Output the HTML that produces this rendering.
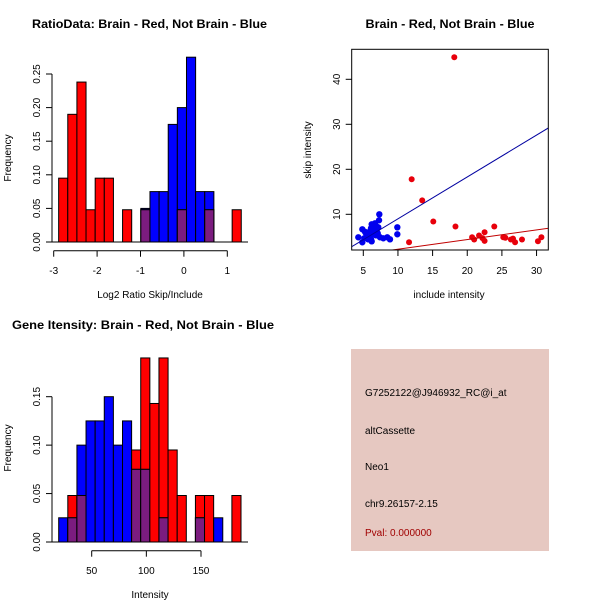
<!DOCTYPE html>
<html><head><meta charset="utf-8"><style>
html,body{margin:0;padding:0;background:#fff;}
svg{display:block;font-family:"Liberation Sans",sans-serif;}
</style></head><body>
<svg id="c" width="600" height="600" viewBox="0 0 600 600"></svg>
<script>
// ---- Panel 1: ratio histogram ----
const ratioBinStart = -2.886;
const ratioBinWidth = 0.2104;
const ratioRed  = [0.095,0.19,0.238,0.048,0.095,0.095,0,0.048,0,0.048,0,0,0,0.048,0,0,0.048,0,0,0.048];
const ratioBlue = [0,0,0,0,0,0,0,0,0,0.05,0.075,0.075,0.175,0.2,0.275,0.075,0.075,0,0,0];
const ratioXTicks = [-3,-2,-1,0,1];
const ratioYTicks = [0,0.05,0.10,0.15,0.20,0.25];
const ratioYLabels = ["0.00","0.05","0.10","0.15","0.20","0.25"];
// ---- Panel 2: scatter ----
const redInc  = [18.13,11.98,13.5,15.1,11.6,18.3,23.9,20.7,21.0,21.7,22.2,22.5,22.5,25.2,25.5,26.3,26.6,26.9,27.9,30.2,30.7];
const redSkip = [44.9,17.8,13.1,8.4,3.8,7.3,7.3,4.9,4.4,5.3,4.7,6.0,4.1,4.9,4.8,4.4,4.6,3.8,4.4,4.0,4.9];
const blueInc  = [4.28,4.86,4.86,5.14,5.39,5.49,5.72,5.87,5.97,6.11,6.11,6.21,6.36,6.44,6.54,6.69,6.83,6.93,7.08,7.16,7.27,7.31,7.41,7.89,8.46,8.85,9.91,9.91,6.21,5.72,5.25,6.69,6.93];
const blueSkip = [4.89,6.67,3.78,4.67,5.78,5.11,5.56,4.89,6.22,6.89,4.44,7.78,5.56,6.67,6.0,7.11,5.33,6.22,5.78,7.11,8.67,10.0,4.89,4.67,4.89,4.44,7.11,5.56,4.0,4.44,6.1,8.0,7.26];
const redFit  = [0.1, 0.214];   // intercept, slope
const blueFit = [-0.3, 0.93];
const scXTicks = [5,10,15,20,25,30];
const scYTicks = [10,20,30,40];
// ---- Panel 3: intensity histogram ----
const intBinStart = 19.8;
const intBinWidth = 8.34;
const intRed  = [0,0.048,0.048,0,0,0,0,0,0.095,0.19,0.143,0.19,0.095,0.048,0,0.048,0.048,0,0,0.048];
const intBlue = [0.025,0.025,0.1,0.125,0.125,0.15,0.1,0.125,0.075,0.075,0,0.025,0,0,0,0.025,0,0.025,0,0];
const intXTicks = [50,100,150];
const intYTicks = [0,0.05,0.10,0.15];
const intYLabels = ["0.00","0.05","0.10","0.15"];
// ---- Panel 4 text ----
const infoLines = ["G7252122@J946932_RC@i_at","altCassette","Neo1","chr9.26157-2.15"];
const pvalText = "Pval: 0.000000";

const NS="http://www.w3.org/2000/svg";
const svg=document.getElementById('c');
function mk(tag,attrs,parent){const e=document.createElementNS(NS,tag);for(const k in attrs)e.setAttribute(k,attrs[k]);(parent||svg).appendChild(e);return e;}
function txt(s,x,y,attrs,parent){const t=mk('text',Object.assign({x:x,y:y,'font-size':10,'text-anchor':'middle',fill:'#000'},attrs||{}),parent);t.textContent=s;return t;}

function hist(g,start,width,red,blue,sx,sy){
  for(let i=0;i<red.length;i++){
    const x0=sx(start+i*width), x1=sx(start+(i+1)*width);
    const r=red[i], b=blue[i];
    const order=r>=b?[[r,'#ff0000','red'],[b,'#0000ff','blue']]:[[b,'#0000ff','blue'],[r,'#ff0000','red']];
    for(const [v,col,nm] of order){
      if(v<=0) continue;
      const el=mk('rect',{x:x0,y:sy(v),width:x1-x0,height:sy(0)-sy(v),fill:col,stroke:'#000','stroke-width':1},g);
      
      
    }
    const m=Math.min(r,b);
    if(m>0){
      const el=mk('rect',{x:x0,y:sy(m),width:x1-x0,height:sy(0)-sy(m),fill:'#7b1c7f',stroke:'#000','stroke-width':1},g);
      
      
    }
  }
}
function yAxis(g,x,ticks,labels,sy,labX){
  mk('line',{x1:x,x2:x,y1:sy(ticks[0]),y2:sy(ticks[ticks.length-1]),stroke:'#000'},g);
  ticks.forEach((t,i)=>{
    mk('line',{x1:x,x2:x-6,y1:sy(t),y2:sy(t),stroke:'#000'},g);
    txt(labels[i],labX,sy(t)+4,{transform:`rotate(-90 ${labX} ${sy(t)})`},g);
  });
}
function xAxis(g,y,ticks,sx,labY){
  mk('line',{x1:sx(ticks[0]),x2:sx(ticks[ticks.length-1]),y1:y,y2:y,stroke:'#000'},g);
  ticks.forEach(t=>{
    mk('line',{x1:sx(t),x2:sx(t),y1:y,y2:y+6,stroke:'#000'},g);
    txt(String(t),sx(t),labY,{},g);
  });
}
function title(s,cx,y,w,g){
  return txt(s,cx,y,{'font-weight':'bold','font-size':11.5,textLength:w,lengthAdjust:'spacingAndGlyphs'},g);
}

// Panel 1
(function(){
  const g=mk('g',{});
  
  
  const sx=v=>53.7+(v+3)*43.4, sy=v=>242-v*672;
  title("RatioData: Brain - Red, Not Brain - Blue",149.5,28,235,g);
  hist(g,ratioBinStart,ratioBinWidth,ratioRed,ratioBlue,sx,sy);
  mk('line',{x1:52,x2:248,y1:242,y2:242,stroke:'#000'},g);
  yAxis(g,52,ratioYTicks,ratioYLabels,sy,36);
  xAxis(g,250.7,ratioXTicks,sx,274);
  txt("Log2 Ratio Skip/Include",150,298,{},g);
  txt("Frequency",11,158,{transform:'rotate(-90 11 158)'},g);
})();

// Panel 2
(function(){
  const g=mk('g',{});
  
  
  const sx=v=>363.3+(v-5)*6.93, sy=v=>214.3-(v-10)*4.5;
  title("Brain - Red, Not Brain - Blue",450,28,169,g);
  const cp=mk('clipPath',{id:'cp'},g);mk('rect',{x:351.7,y:49.3,width:196.6,height:200.7},cp);
  const pg=mk('g',{'clip-path':'url(#cp)'},g);
  redInc.forEach((v,i)=>{const c=mk('circle',{cx:sx(v),cy:sy(redSkip[i]),r:3,fill:'#e8000b'},pg);
    
    });
  blueInc.forEach((v,i)=>{const c=mk('circle',{cx:sx(v),cy:sy(blueSkip[i]),r:3.2,fill:'#0000ee'},pg);
    
    });
  const l1=mk('line',{x1:sx(3),y1:sy(blueFit[0]+blueFit[1]*3),x2:sx(33),y2:sy(blueFit[0]+blueFit[1]*33),stroke:'#0000a0','stroke-width':1},pg);
  
  const l2=mk('line',{x1:sx(3),y1:sy(redFit[0]+redFit[1]*3),x2:sx(33),y2:sy(redFit[0]+redFit[1]*33),stroke:'#c00000','stroke-width':1},pg);
  
  mk('rect',{x:351.7,y:49.3,width:196.6,height:200.7,fill:'none',stroke:'#000'},g);
  scXTicks.forEach(t=>{mk('line',{x1:sx(t),x2:sx(t),y1:250,y2:256,stroke:'#000'},g);txt(String(t),sx(t),274,{},g);});
  scYTicks.forEach(t=>{mk('line',{x1:351.7,x2:345.7,y1:sy(t),y2:sy(t),stroke:'#000'},g);txt(String(t),336,sy(t)+4,{transform:`rotate(-90 336 ${sy(t)})`},g);});
  txt("include intensity",449,298,{},g);
  txt("skip intensity",311,150,{transform:'rotate(-90 311 150)'},g);
})();

// Panel 3
(function(){
  const g=mk('g',{});
  
  
  const sx=v=>91.7+(v-50)*1.093, sy=v=>542-v*968.7;
  title("Gene Itensity: Brain - Red, Not Brain - Blue",143,329,262,g);
  hist(g,intBinStart,intBinWidth,intRed,intBlue,sx,sy);
  mk('line',{x1:52,x2:248,y1:542,y2:542,stroke:'#000'},g);
  yAxis(g,52,intYTicks,intYLabels,sy,36);
  xAxis(g,550.7,intXTicks,sx,574);
  txt("Intensity",150,598,{},g);
  txt("Frequency",11,448,{transform:'rotate(-90 11 448)'},g);
})();

// Panel 4
(function(){
  const g=mk('g',{});
  
  
  mk('rect',{x:351,y:349,width:198,height:202,fill:'#e6c8c1'},g);
  const ys=[396,434,470,507];
  infoLines.forEach((s,i)=>{const t=txt(s,365,ys[i],{'text-anchor':'start'},g);});
  txt(pvalText,365,536,{'text-anchor':'start',fill:'#a00000'},g);
})();
</script>
</body></html>
